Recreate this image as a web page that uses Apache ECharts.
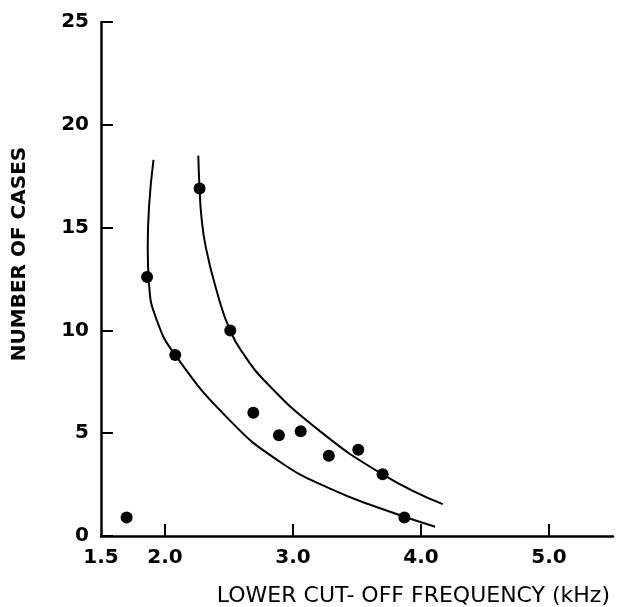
<!DOCTYPE html>
<html>
<head>
<meta charset="utf-8">
<script src="https://cdn.jsdelivr.net/npm/echarts@6/dist/echarts.min.js"></script>
<style>
	html, body { margin: 0; padding: 0; background: #fff; }
	#chart { width: 617px; height: 607px; }
</style>
</head>
<body>
<div id="chart"></div>
<script>
// measured cases (dots)
var pointX = [1.70, 1.86, 2.08, 2.27, 2.51, 2.69, 2.89, 3.06, 3.28, 3.51, 3.70, 3.87];
var pointY = [0.9, 12.6, 8.8, 16.9, 10.0, 6.0, 4.9, 5.1, 3.9, 4.2, 3.0, 0.9];

// hand drawn curves
var lowerCurveX = [1.91, 1.875, 1.865, 1.875, 1.93, 2.08, 2.51, 2.90, 3.29, 3.68, 4.11];
var lowerCurveY = [18.3, 16.0, 14.0, 12.3, 10.6, 8.8, 5.6, 3.6, 2.3, 1.35, 0.45];
var upperCurveX = [2.26, 2.27, 2.285, 2.32, 2.40, 2.51, 2.63, 2.77, 3.16, 3.70, 4.17];
var upperCurveY = [18.5, 16.9, 15.5, 14.0, 12.0, 9.97, 8.7, 7.6, 5.35, 3.0, 1.55];

var xLabelValues = [1.5, 2.0, 3.0, 4.0, 5.0];
var xTickValues = [2.0, 3.0, 4.0, 5.0];
var yMin = 0, yMax = 25, yStep = 5;
var xMin = 1.5, xMax = 5.5;

var labelFont = "DejaVu Sans";

function pairs(xs, ys){
	var out = [];
	for (var i = 0; i < xs.length; i++){
		out.push([xs[i], ys[i]]);
	}
	return out;
}

function curveSeries(xs, ys){
	return {
		type: "line",
		data: pairs(xs, ys),
		smooth: 0.5,
		showSymbol: false,
		symbol: "none",
		lineStyle: { color: "#000", width: 2 },
		silent: true,
		z: 2
	};
}

var chart = echarts.init(document.getElementById("chart"), null, { renderer: "canvas" });

chart.setOption({
	animation: false,
	backgroundColor: "#fff",
	grid: { left: 101, right: 4, top: 22, bottom: 70 },
	xAxis: {
		type: "value",
		min: xMin,
		max: xMax,
		name: "LOWER CUT- OFF FREQUENCY (kHz)",
		nameLocation: "end",
		nameGap: -3,
		nameTextStyle: {
			fontFamily: labelFont,
			fontSize: 22,
			color: "#000",
			align: "right",
			verticalAlign: "top",
			padding: [49, 0, 0, 0]
		},
		axisLine: { lineStyle: { color: "#000", width: 2.5 } },
		axisTick: {
			inside: true,
			length: 12,
			customValues: xTickValues,
			lineStyle: { color: "#000", width: 2 }
		},
		axisLabel: {
			customValues: xLabelValues,
			margin: 12,
			fontFamily: labelFont,
			fontWeight: "bold",
			fontSize: 20,
			color: "#000",
			formatter: function(v){ return v.toFixed(1); }
		},
		splitLine: { show: false }
	},
	yAxis: {
		type: "value",
		min: yMin,
		max: yMax,
		interval: yStep,
		name: "NUMBER OF CASES",
		nameLocation: "middle",
		nameGap: 71,
		nameTextStyle: {
			fontFamily: labelFont,
			fontSize: 20,
			fontWeight: "bold",
			color: "#000",
			padding: [0, 0, 0, 50]
		},
		axisLine: { lineStyle: { color: "#000", width: 2.5 } },
		axisTick: { inside: true, length: 12, lineStyle: { color: "#000", width: 2 } },
		axisLabel: {
			margin: 12,
			fontFamily: labelFont,
			fontWeight: "bold",
			fontSize: 20,
			color: "#000"
		},
		splitLine: { show: false }
	},
	series: [
		curveSeries(lowerCurveX, lowerCurveY),
		curveSeries(upperCurveX, upperCurveY),
		{
			type: "scatter",
			data: pairs(pointX, pointY),
			symbol: "circle",
			symbolSize: 12,
			itemStyle: { color: "#000", opacity: 1 },
			z: 3
		}
	]
});
</script>
</body>
</html>
